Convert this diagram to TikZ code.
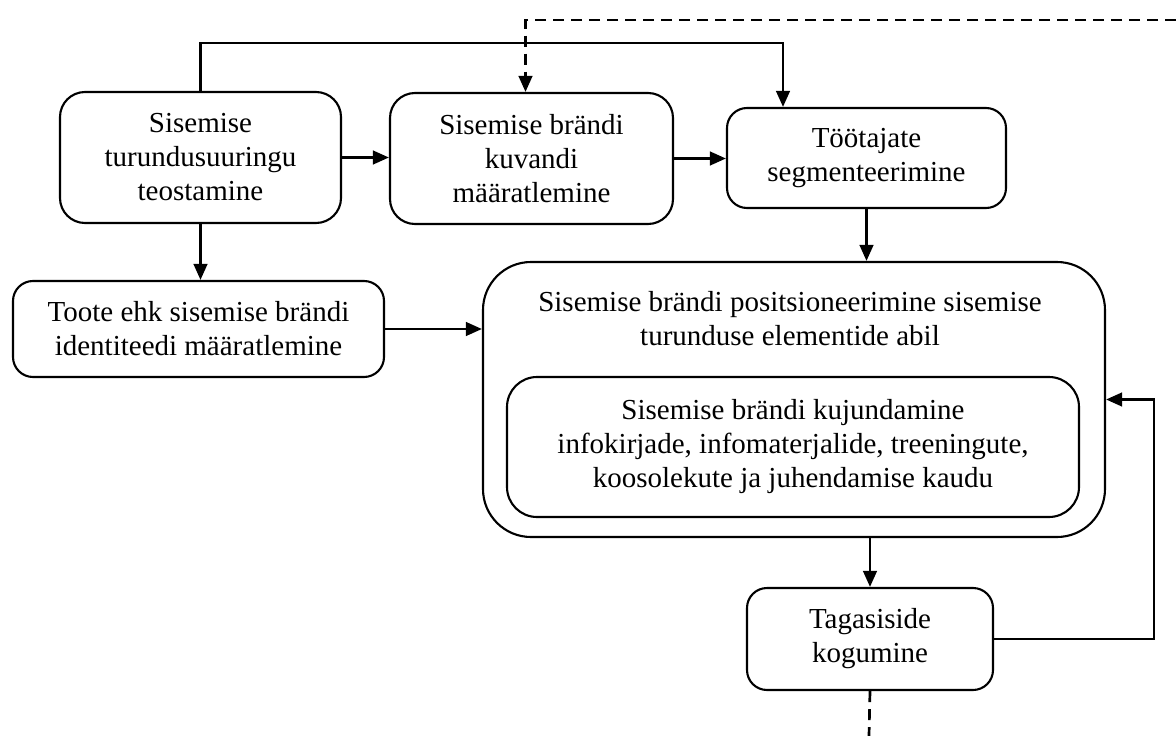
\documentclass[tikz,border=0pt]{standalone}
\usepackage{fontspec}
\setmainfont{Liberation Serif}
\usetikzlibrary{arrows.meta,calc}
\begin{document}
\begin{tikzpicture}[x=1pt,y=-1pt,
  box/.style={draw, line width=2.1pt, rounded corners=#1, align=center,
    inner sep=0pt, font=\fontsize{29}{34}\selectfont},
  box/.default=22pt,
  lbl/.style={align=center, inner sep=0pt, font=\fontsize{29}{34}\selectfont},
  conn/.style={line width=2.7pt, -{Triangle[length=16pt,width=13.5pt]}},
  dconn/.style={conn, dash pattern=on 11pt off 7pt},
  dline/.style={line width=2.7pt, dash pattern=on 11pt off 7pt}]
\useasboundingbox (0,0) rectangle (1176,736);

% process steps
\node[box=25pt, minimum width=281pt, minimum height=131pt] (A) at (200.5,157.5)
  {Sisemise\\turundusuuringu\\teostamine};
\node[box=25pt, minimum width=283pt, minimum height=131pt] (B) at (531.5,158.5)
  {Sisemise brändi\\kuvandi\\määratlemine};
\node[box=20pt, minimum width=279pt, minimum height=100pt] (C) at (866.5,158)
  {Töötajate\\segmenteerimine};
\node[box=20pt, minimum width=371pt, minimum height=96pt] (D) at (198.5,329)
  {Toote ehk sisemise brändi\\identiteedi määratlemine};

% positioning block with its nested shaping step
\node[box=48pt, minimum width=622pt, minimum height=275pt] (E) at (794,399.5) {};
\node[lbl] (Et) at (790,319)
  {Sisemise brändi positsioneerimine sisemise\\turunduse elementide abil};
\node[box=30pt, minimum width=572pt, minimum height=140pt] (F) at (793,447)
  {Sisemise brändi kujundamine\\infokirjade, infomaterjalide, treeningute,\\koosolekute ja juhendamise kaudu};

\node[box=20pt, minimum width=246pt, minimum height=102pt] (G) at (870,639)
  {Tagasiside\\kogumine};

% helper points
\coordinate (Ctop) at ($(C.north)+(-83.5,0)$);
\coordinate (Btop) at ($(B.north)+(-6,0)$);
\coordinate (dR) at (1176,20);
\coordinate (dB) at (869,736);

% connectors
\draw[conn] (A.east) -- (A.east -| B.west);
\draw[conn] (B.east) -- (B.east -| C.west);
\draw[conn] (A.north) -- ++(0,-48) -| (Ctop);
\draw[dconn] (dR) -| (Btop);
\draw[conn] (A.south) -- (A.south |- D.north);
\draw[conn] (C.south) -- (C.south |- E.north);
\draw[conn] (D.east) -- (D.east -| E.west);
\draw[conn] (E.south -| G.north) -- (G.north);
\draw[conn] (G.east) -- ++(160,0) |- (E.east);
\draw[dline] (G.south) -- (dB);
\end{tikzpicture}
\end{document}
